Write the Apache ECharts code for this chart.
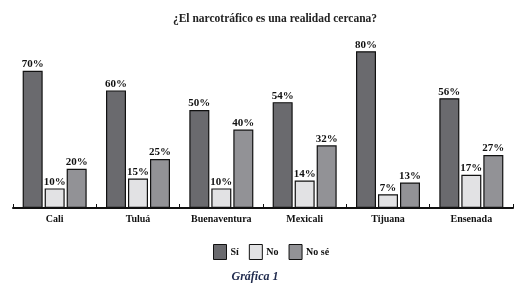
<!DOCTYPE html>
<html><head><meta charset="utf-8">
<script src="https://cdn.jsdelivr.net/npm/echarts@6/dist/echarts.min.js"></script>
<style>html,body{margin:0;padding:0;background:#fff}#c{width:523px;height:293px}</style>
</head><body><div id="c"></div>
<script>
var categories = ['Cali', 'Tuluá', 'Buenaventura', 'Mexicali', 'Tijuana', 'Ensenada'];
var si = [70, 60, 50, 54, 80, 56];
var no = [10, 15, 10, 14, 7, 17];
var nose = [20, 25, 40, 32, 13, 27];
var seriesNames = ['Sí', 'No', 'No sé'];
var colors = ['#6a6a6e', '#e2e2e4', '#929296'];

var chart = echarts.init(document.getElementById('c'));
var serif = 'Liberation Serif';
function mk(name, data, color) {
  return {
    name: name, type: 'bar', data: data, barWidth: 20, barGap: '10%',
    itemStyle: { color: color, borderColor: '#111', borderWidth: 1.2 },
    label: { show: true, position: 'top', distance: 1, formatter: '{c}%', color: '#111',
      fontFamily: serif, fontWeight: 'bold', fontSize: 11 }
  };
}
chart.setOption({
  animation: false,
  title: [{ text: '¿El narcotráfico es una realidad cercana?', left: 270, top: 8, textAlign: 'center',
    textStyle: { fontFamily: serif, fontWeight: 'bold', fontSize: 11.5, color: '#222' } },
    { text: 'Gráfica 1', left: 250, top: 266, textAlign: 'center',
    textStyle: { fontFamily: serif, fontStyle: 'italic', fontWeight: 'bold', fontSize: 12, color: '#1f2a4d' } }],
  legend: { data: seriesNames, left: 208, top: 239, itemWidth: 13, itemHeight: 15, itemGap: 10,
    icon: 'rect',
    textStyle: { fontFamily: serif, fontWeight: 'bold', fontSize: 10, color: '#111', padding: [0, 0, 0, -1] },
    itemStyle: { borderColor: '#111', borderWidth: 1 } },
  grid: { left: 13, right: 10, top: 12, bottom: 85 },
  xAxis: { type: 'category', data: categories,
    axisLine: { lineStyle: { color: '#111', width: 2 } },
    axisTick: { show: true, length: 4, inside: true, lineStyle: { color: '#111', width: 1 } },
    axisLabel: { fontFamily: serif, fontWeight: 'bold', fontSize: 10, color: '#111', margin: 6 } },
  yAxis: { type: 'value', min: 0, max: 100, show: false, splitLine: { show: false } },
  series: [mk(seriesNames[0], si, colors[0]), mk(seriesNames[1], no, colors[1]), mk(seriesNames[2], nose, colors[2])]
});
</script></body></html>
